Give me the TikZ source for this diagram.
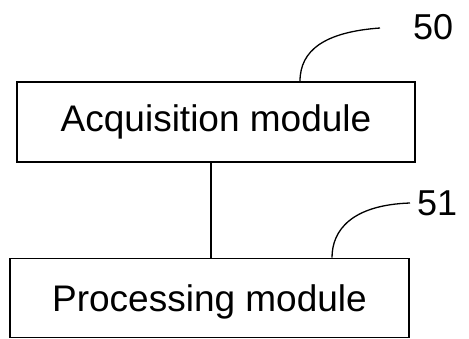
\documentclass[tikz,border=0pt]{standalone}
\usepackage{fontspec}
\setmainfont{Liberation Sans}
\begin{document}
\begin{tikzpicture}[x=1pt,y=-1pt,
  modbox/.style={draw,line width=1.3pt,inner sep=0pt,font=\fontsize{37}{40}\selectfont},
  reflabel/.style={font=\fontsize{36}{40}\selectfont,inner sep=0pt,anchor=west},
  leader/.style={line width=1.3pt}]
\useasboundingbox (0,0) rectangle (469,339);
\node[modbox,minimum width=398pt,minimum height=80pt] (acq) at (216,122) {Acquisition module};
\node[modbox,minimum width=399pt,minimum height=79pt,text height=26.5pt,text depth=0pt] (proc) at (209.5,297.8) {Processing module};
\draw[leader] (acq.south -| 211,0) -- (proc.north -| 211,0);
\node[reflabel] (l50) at (413,27) {50};
\node[reflabel] (l51) at (417,203) {51};
\coordinate (e50) at (380,28);
\coordinate (e51) at (410,203);
\draw[leader] (acq.north -| 300,0) .. controls (300,50) and (325,32) .. (e50);
\draw[leader] (proc.north -| 332,0) .. controls (332,230) and (352,205) .. (e51);
\end{tikzpicture}
\end{document}
